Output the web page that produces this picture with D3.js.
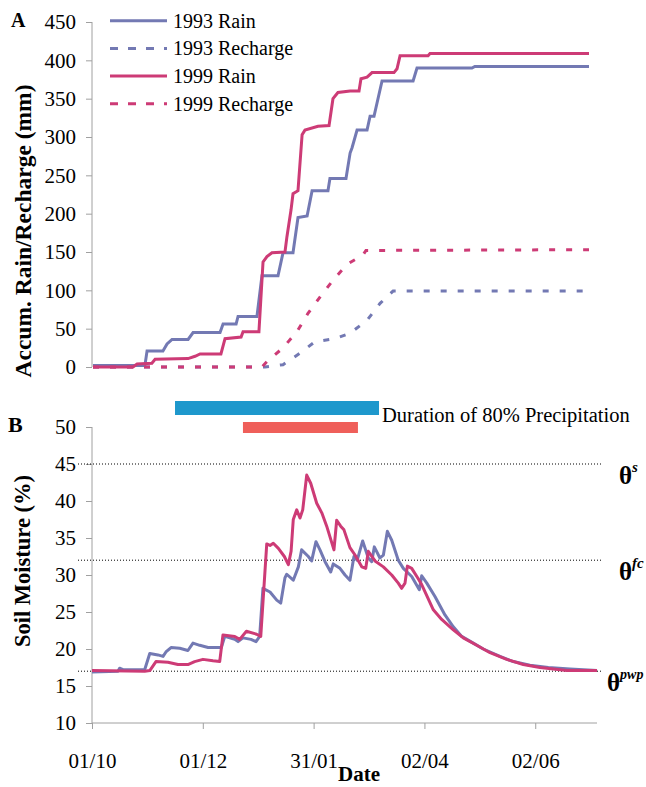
<!DOCTYPE html>
<html>
<head>
<meta charset="utf-8">
<script src="https://cdn.jsdelivr.net/npm/d3@7"></script>
<style>
  body { margin: 0; background: #fff; }
  svg { display: block; font-family: "Liberation Serif", "Times New Roman", serif; }
</style>
</head>
<body>
<svg id="chart" width="646" height="787"></svg>
<script>
// days counted from 01/10
const tickDays = [0, 61, 122, 183, 244]
const tickLabels = ["01/10", "01/12", "31/01", "02/04", "02/06"]

// panel A : accumulated rain / recharge (mm)
const rain1993 = [[0,2],[29.1,2],[30.3,21],[39.2,21],[41.5,30],[44.3,36],[53.3,36],[56.1,45],[71.2,45],[72.9,56],[80.2,56],[81.3,66],[91.9,66],[94.7,119],[103.7,119],[106.5,149],[112.1,149],[114.9,195],[120,197],[122.8,230],[131.7,230],[132.8,246],[141.8,246],[144.1,279],[145.2,286],[148,309],[153.6,309],[155.3,327],[157.5,327],[162,373],[179.4,373],[181.6,390],[212.4,390],[214,392],[278,392]]
const recharge1993 = [[0,0],[96.4,0],[106.5,3],[116,18],[124.4,33],[135.7,37],[144.1,44],[153.6,61],[160.9,83],[168.2,99],[278,99]]
const rain1999 = [[0,0],[22.4,0],[24.7,4],[33,5],[34.8,10],[53.3,11],[57.2,14],[60,17],[71.7,17],[74,37],[83,39],[84.1,46],[93,46],[95.3,137],[97.5,144],[100.3,149],[107.6,150],[108.7,170],[111,205],[112.1,226],[114.9,230],[117.2,303],[118.8,309],[126.1,314],[132.3,315],[134.5,350],[137.3,358],[144.1,360],[149.1,360],[150.2,376],[153.6,378],[156.4,384],[168.7,384],[170.4,389],[172.1,406],[187.8,406],[188.9,409],[278,409]]
const recharge1999 = [[0,0],[94.7,0],[97.5,7],[106.5,25],[114.3,46],[120.5,70],[127.8,93],[134.5,113],[142.4,134],[151.3,146],[153,152],[278,153]]

// panel B : soil moisture (%)
const moist1993 = [[0,16.9],[14.3,17.0],[15.2,17.4],[17.1,17.2],[29,17.2],[31.8,19.4],[36.3,19.2],[39.1,19.0],[40.7,19.6],[43.5,20.2],[48.3,20.1],[52.8,19.8],[55.6,20.8],[59.3,20.5],[63.9,20.2],[71.2,20.2],[73.1,21.7],[78.6,21.3],[80.4,21.0],[83.1,21.5],[87.5,21.3],[90.3,21.0],[92.3,21.7],[94.1,28.2],[98,27.7],[101.7,26.6],[103.9,26.2],[106.2,29.6],[107.2,30.1],[110.8,29.3],[113.6,31.1],[115.4,33.4],[119.1,32.5],[120.9,31.9],[123.3,34.5],[125.5,33.4],[128.3,31.8],[131.4,30.4],[132.8,31.5],[136.5,30.9],[139.3,30.0],[142,29.3],[144.2,32.5],[146,32.0],[149,34.6],[152.1,32.3],[154,31.8],[155.4,33.8],[158.5,32.3],[160.4,32.7],[162.6,35.9],[165,34.7],[168.6,32.0],[171.4,30.9],[176,29.8],[180.2,28.0],[181.5,29.9],[184.3,28.9],[188.8,27.1],[194.3,24.6],[198.9,23.0],[203.5,21.7],[209.9,20.8],[215.4,20.0],[224.6,19.0],[231.9,18.3],[241.1,17.8],[251.2,17.5],[263.1,17.3],[278,17.1]]
const moist1999 = [[0,17.1],[29,17.0],[31.9,17.1],[35.2,18.3],[41.8,18.2],[47.3,17.9],[52.8,17.9],[56.5,18.3],[61.1,18.6],[66.6,18.4],[70.3,18.3],[72.1,21.9],[78.6,21.7],[81.3,21.3],[85,22.4],[90.6,22.0],[92.9,21.7],[96.2,34.2],[98,34.0],[99.8,34.3],[102.6,33.6],[105.9,32.5],[108.1,31.4],[109.6,33.2],[110.8,37.5],[112.7,38.8],[114.5,37.7],[116,38.8],[118.2,43.5],[120.4,42.4],[123.7,39.7],[126.5,38.4],[129.2,36.6],[133.2,33.4],[134.7,37.4],[136.9,36.6],[138.7,36.1],[142,33.7],[144.8,32.7],[148.5,31.1],[150.7,30.9],[152.1,33.2],[155.8,31.9],[160.4,31.1],[165,30.0],[168.6,28.9],[170.5,28.2],[172.3,28.9],[173.6,31.2],[176,30.9],[179.6,29.5],[181.5,28.7],[187.9,25.3],[192.5,24.0],[198.9,22.6],[204.4,21.5],[211.8,20.5],[219.1,19.5],[228.3,18.6],[237.4,17.9],[246.6,17.5],[261.3,17.1],[278,17.1]]

// soil moisture thresholds
const refValues = [45, 32, 17]
const refNames = ["s", "fc", "pwp"]

// duration of 80% precipitation, [start day, end day]
const duration1993 = [45.7, 158]
const duration1999 = [83.1, 146.4]

const blue = "#7379b3", pink = "#cd3b76"
const serif = "Liberation Serif, Times New Roman, serif"
const svg = d3.select("#chart")

// ---------- panel A ----------
const xA = d3.scaleLinear().domain([0, 278]).range([93, 589])
const yA = d3.scaleLinear().domain([0, 450]).range([367, 22])

const axA = svg.append("g").attr("transform", "translate(92,0)")
  .call(d3.axisLeft(yA).tickValues(d3.range(0, 451, 50)).tickSize(6).tickPadding(10))
axA.select(".domain").attr("stroke", "#a0a0a0").attr("d", `M0,${yA(0)}V${yA(450)}`)
axA.selectAll(".tick line").attr("stroke", "#a0a0a0")
axA.selectAll(".tick text").attr("font-size", 21).attr("font-family", serif).attr("fill", "#000")

const lineA = d3.line().x(d => xA(d[0])).y(d => yA(d[1]))
const seriesA = [
  { name: "1993 Rain", data: rain1993, color: blue, dash: null },
  { name: "1993 Recharge", data: recharge1993, color: blue, dash: "6,11" },
  { name: "1999 Rain", data: rain1999, color: pink, dash: null },
  { name: "1999 Recharge", data: recharge1999, color: pink, dash: "6,11" }
]
svg.append("g").selectAll("path").data(seriesA).enter().append("path")
  .attr("d", d => lineA(d.data))
  .attr("fill", "none")
  .attr("stroke", d => d.color)
  .attr("stroke-width", 3)
  .attr("stroke-dasharray", d => d.dash)

const legend = svg.append("g").selectAll("g").data(seriesA).enter().append("g")
  .attr("transform", (d, i) => `translate(110,${20.7 + i * 27.7})`)
legend.append("line").attr("x1", 0).attr("x2", 57)
  .attr("stroke", d => d.color).attr("stroke-width", 3)
  .attr("stroke-dasharray", d => d.dash ? "8,10" : null)
legend.append("text").attr("x", 63).attr("y", 7).attr("font-size", 20).text(d => d.name)

svg.append("text").attr("transform", "translate(31,231) rotate(-90)")
  .attr("text-anchor", "middle").attr("font-size", 23.5).attr("font-weight", "bold")
  .text("Accum. Rain/Recharge (mm)")
svg.append("text").attr("x", 11).attr("y", 27).attr("font-size", 20).attr("font-weight", "bold").text("A")

// ---------- panel B ----------
const xB = d3.scaleLinear().domain([0, 278]).range([92, 597])
const yB = d3.scaleLinear().domain([10, 50]).range([723, 427])

const axBy = svg.append("g").attr("transform", "translate(92,0)")
  .call(d3.axisLeft(yB).tickValues(d3.range(10, 51, 5)).tickSize(6).tickPadding(10))
axBy.select(".domain").attr("stroke", "#a0a0a0").attr("d", `M0,${yB(10)}V${yB(50)}`)
axBy.selectAll(".tick line").attr("stroke", "#a0a0a0")
axBy.selectAll(".tick text").attr("font-size", 21).attr("font-family", serif).attr("fill", "#000")

const axBx = svg.append("g").attr("transform", `translate(0,${yB(10)})`)
  .call(d3.axisBottom(xB).tickValues(tickDays).tickFormat((d, i) => tickLabels[i]).tickSize(6).tickPadding(24))
axBx.select(".domain").attr("stroke", "#a0a0a0").attr("d", `M${xB(0)},0H${xB(278)}`)
axBx.selectAll(".tick line").attr("stroke", "#a0a0a0")
axBx.selectAll(".tick text").attr("font-size", 21).attr("font-family", serif).attr("fill", "#000")

// thresholds
svg.append("g").selectAll("line").data(refValues).enter().append("line")
  .attr("x1", 78).attr("x2", 602)
  .attr("y1", d => yB(d)).attr("y2", d => yB(d))
  .attr("stroke", "#000").attr("stroke-width", 1).attr("stroke-dasharray", "1,2")

const thetaX = [619, 619, 607]
const thetaLab = svg.append("g").selectAll("text").data(refValues).enter().append("text")
  .attr("x", (d, i) => thetaX[i]).attr("y", d => yB(d) + 20)
  .attr("font-size", 25).attr("font-weight", "bold")
thetaLab.append("tspan").text("θ")
thetaLab.append("tspan").attr("dy", -12).attr("font-size", (d, i) => i === 2 ? 14 : 15).attr("font-style", "italic")
  .text((d, i) => refNames[i])

const lineB = d3.line().x(d => xB(d[0])).y(d => yB(d[1]))
svg.append("g").selectAll("path").data([moist1993, moist1999]).enter().append("path")
  .attr("d", d => lineB(d))
  .attr("fill", "none")
  .attr("stroke", (d, i) => i ? pink : blue)
  .attr("stroke-width", 3)
  .attr("stroke-linejoin", "round")

// duration bars
svg.append("rect").attr("x", xB(duration1993[0])).attr("width", xB(duration1993[1]) - xB(duration1993[0]))
  .attr("y", 401).attr("height", 14).attr("fill", "#1e98cc")
svg.append("rect").attr("x", xB(duration1999[0])).attr("width", xB(duration1999[1]) - xB(duration1999[0]))
  .attr("y", 422).attr("height", 11).attr("fill", "#ef5f5a")
svg.append("text").attr("x", 382).attr("y", 422).attr("font-size", 20.5).text("Duration of 80% Precipitation")

svg.append("text").attr("transform", "translate(30,561) rotate(-90)")
  .attr("text-anchor", "middle").attr("font-size", 22.5).attr("font-weight", "bold")
  .text("Soil Moisture (%)")
svg.append("text").attr("x", 8).attr("y", 432).attr("font-size", 22).attr("font-weight", "bold").text("B")
svg.append("text").attr("x", 359).attr("y", 781).attr("text-anchor", "middle")
  .attr("font-size", 21).attr("font-weight", "bold").text("Date")
</script>
</body>
</html>
